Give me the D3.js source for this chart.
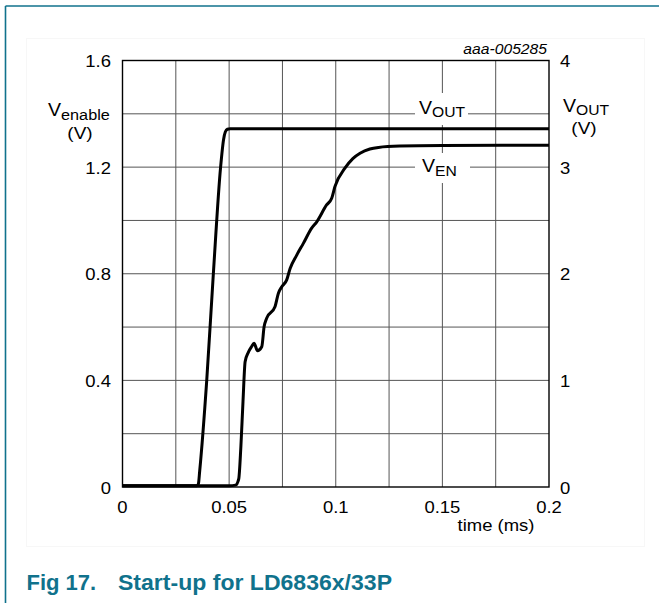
<!DOCTYPE html>
<html><head><meta charset="utf-8">
<script src="https://cdn.jsdelivr.net/npm/d3@7"></script>
<style>html,body{margin:0;padding:0;background:#fff;}svg{display:block;}</style>
</head><body>
<script>
// ---- data ----
const xTicks = [0, 0.05, 0.1, 0.15, 0.2];
const xTickLabels = ["0", "0.05", "0.1", "0.15", "0.2"];
const leftTicks = [0, 0.4, 0.8, 1.2, 1.6];
const leftTickLabels = ["0", "0.4", "0.8", "1.2", "1.6"];
const rightTicks = [0, 1, 2, 3, 4];
const rightTickLabels = ["0", "1", "2", "3", "4"];
const xGrid = [0.025, 0.05, 0.075, 0.1, 0.125, 0.15, 0.175];
const yGrid = [0.2, 0.4, 0.6, 0.8, 1.0, 1.2, 1.4];

// V_OUT (right axis, V) vs time (ms)
const voutTime = [0, 0.0350, 0.0356, 0.0362, 0.0395, 0.0426, 0.0460, 0.0474, 0.0482, 0.0492, 0.0505, 0.2];
const voutVal  = [0.012, 0.012, 0.03, 0.15, 1.0, 2.0, 3.0, 3.26, 3.33, 3.355, 3.36, 3.36];

// V_EN (left axis, V) vs time (ms)
const venTime = [0, 0.0500, 0.0530, 0.0545, 0.0555, 0.0565, 0.0575, 0.0590, 0.0605, 0.0617, 0.0633, 0.0653, 0.0664, 0.0676, 0.0715, 0.0731, 0.0747, 0.0770, 0.0786, 0.0817, 0.0848, 0.0887, 0.0911, 0.0957, 0.0981, 0.0996, 0.1043, 0.1080, 0.1114, 0.1160, 0.1200, 0.1300, 0.1500, 0.2000];
const venVal  = [0.005, 0.005, 0.007, 0.03, 0.15, 0.32, 0.47, 0.505, 0.526, 0.539, 0.511, 0.526, 0.601, 0.633, 0.676, 0.727, 0.751, 0.777, 0.820, 0.870, 0.914, 0.971, 0.995, 1.058, 1.083, 1.127, 1.196, 1.232, 1.252, 1.268, 1.274, 1.279, 1.281, 1.282];

const W = 659, H = 603;
const svg = d3.select("body").append("svg").attr("width", W).attr("height", H);
const FONT = "'Liberation Sans', Arial, Helvetica, sans-serif";
const SX = 1.12;

const x = d3.scaleLinear().domain([0, 0.2]).range([122.5, 549]);
const yL = d3.scaleLinear().domain([0, 1.6]).range([487, 60.5]);
const yR = d3.scaleLinear().domain([0, 4]).range([487, 60.5]);

// outer page border
const teal = "#10728c";
svg.append("line").attr("x1", 5.5).attr("x2", W).attr("y1", 6).attr("y2", 6).attr("stroke", teal).attr("stroke-width", 1.6);
svg.append("line").attr("x1", 5.5).attr("x2", 5.5).attr("y1", 6).attr("y2", H).attr("stroke", teal).attr("stroke-width", 1.6);
// faint image box
svg.append("rect").attr("x", 26.5).attr("y", 38.5).attr("width", 618).attr("height", 508)
  .attr("fill", "none").attr("stroke", "#f7f7f7").attr("stroke-width", 1);

// grid
const grid = svg.append("g").attr("stroke", "#555").attr("stroke-width", 1);
grid.selectAll("line.v").data(xGrid).join("line").attr("class", "v")
  .attr("x1", d => x(d)).attr("x2", d => x(d)).attr("y1", yL(1.6)).attr("y2", yL(0));
grid.selectAll("line.h").data(yGrid).join("line").attr("class", "h")
  .attr("x1", x(0)).attr("x2", x(0.2)).attr("y1", d => yL(d)).attr("y2", d => yL(d));

// label boxes inside plot (hide grid)
svg.append("rect").attr("x", 415).attr("y", 93).attr("width", 53).attr("height", 32).attr("fill", "#fff");
svg.append("rect").attr("x", 415).attr("y", 153).attr("width", 55).attr("height", 30).attr("fill", "#fff");

// curves
const lineR = d3.line().x(d => x(d[0])).y(d => yR(d[1])).curve(d3.curveMonotoneX);
const lineL = d3.line().x(d => x(d[0])).y(d => yL(d[1])).curve(d3.curveMonotoneX);
svg.append("path").datum(voutTime.map((t, i) => [t, voutVal[i]]))
  .attr("d", lineR).attr("fill", "none").attr("stroke", "#000").attr("stroke-width", 3).attr("stroke-linejoin", "round");
svg.append("path").datum(venTime.map((t, i) => [t, venVal[i]]))
  .attr("d", lineL).attr("fill", "none").attr("stroke", "#000").attr("stroke-width", 3).attr("stroke-linejoin", "round");

// frame
svg.append("rect").attr("x", x(0)).attr("y", yL(1.6)).attr("width", x(0.2) - x(0)).attr("height", yL(0) - yL(1.6))
  .attr("fill", "none").attr("stroke", "#000").attr("stroke-width", 1.4);

// text helper
function txt(px, py, anchor, size, style) {
  const t = svg.append("text").attr("transform", `translate(${px},${py}) scale(${SX},1)`)
    .attr("text-anchor", anchor).attr("font-family", FONT).attr("font-size", size).attr("fill", "#000");
  if (style) t.attr("font-style", style);
  return t;
}
function sub(px, py, anchor, main, subs, size, subSize, dy) {
  const t = txt(px, py, anchor, size);
  t.append("tspan").text(main);
  t.append("tspan").attr("font-size", subSize).attr("dy", dy).text(subs);
  return t;
}

// ticks
leftTicks.forEach((v, i) => txt(111, yL(v) + 6.5, "end", 16.5).text(leftTickLabels[i]));
rightTicks.forEach((v, i) => txt(560, yR(v) + 6.5, "start", 16.5).text(rightTickLabels[i]));
xTicks.forEach((v, i) => txt(x(v), 513, "middle", 16.5).text(xTickLabels[i]));
txt(496, 530.5, "middle", 16.5).text("time (ms)");
txt(547, 54, "end", 14, "italic").text("aaa-005285");

// axis titles
sub(48, 115.5, "start", "V", "enable", 17.5, 14.5, 4);
txt(80, 139, "middle", 17).text("(V)");
sub(563, 112, "start", "V", "OUT", 17.5, 14, 3);
txt(584, 133.5, "middle", 17).text("(V)");

// series labels
sub(419, 114, "start", "V", "OUT", 17.5, 14, 3);
sub(422, 171.5, "start", "V", "EN", 17.5, 14, 4);

// figure caption
svg.append("text").attr("x", 26.5).attr("y", 590).attr("font-family", FONT).attr("font-weight", "bold")
  .attr("font-size", 22).attr("fill", teal)
  .text("Fig 17.");
svg.append("text").attr("x", 118).attr("y", 590).attr("font-family", FONT).attr("font-weight", "bold")
  .attr("font-size", 22).attr("fill", teal).attr("textLength", 274).attr("lengthAdjust", "spacingAndGlyphs")
  .text("Start-up for LD6836x/33P");
</script>
</body></html>
